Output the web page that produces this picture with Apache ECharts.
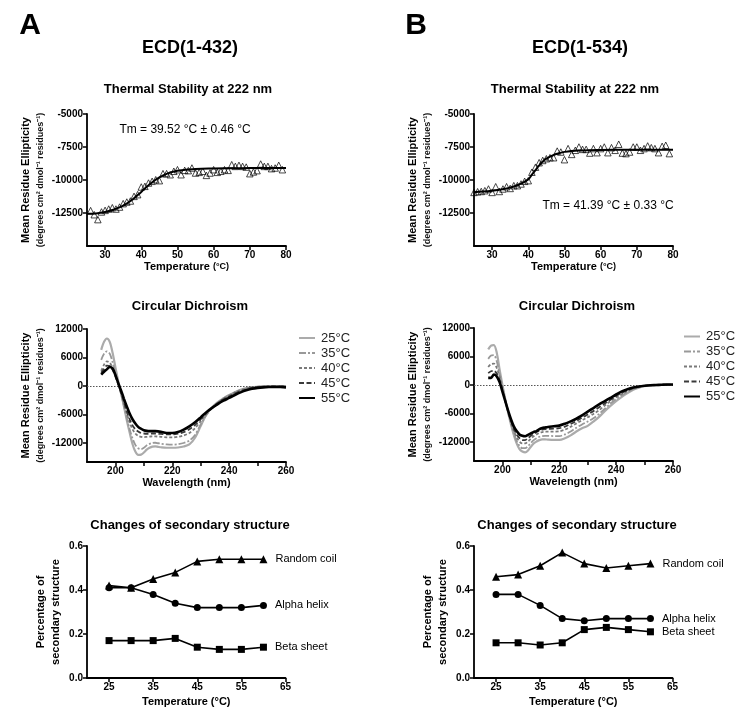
<!DOCTYPE html>
<html><head><meta charset="utf-8">
<script src="https://cdn.jsdelivr.net/npm/echarts@6/dist/echarts.min.js"></script>
<style>html,body{margin:0;padding:0;background:#fff}#c{width:742px;height:718px}</style>
</head><body><div id="c"></div>
<script>
// ---------- Thermal stability (222 nm) ----------
const thermTempsA = [26,27,28,29,30,31,32,33,34,35,36,37,38,39,40,41,42,43,44,45,46,47,48,49,50,51,52,53,54,55,56,57,58,59,60,61,62,63,64,65,66,67,68,69,70,71,72,73,74,75,76,77,78,79];
const thermValsA = [-12320,-12630,-13000,-12420,-12300,-12200,-12100,-12200,-12050,-11790,-11670,-11590,-11240,-11110,-10530,-10480,-10230,-10100,-9980,-10050,-9520,-9520,-9600,-9340,-9220,-9600,-9270,-9290,-9090,-9470,-9420,-9340,-9650,-9470,-9220,-9420,-9340,-9220,-9270,-8840,-8970,-8890,-8970,-9020,-9520,-9390,-9290,-8790,-8970,-8970,-9140,-9090,-8890,-9220];
const fitTempsA = [25,27.5,30,32.5,35,37.5,40,42.5,45,47.5,50,55,60,65,70,75,80];
const fitValsA = [-12560,-12530,-12420,-12230,-11950,-11500,-10900,-10280,-9800,-9480,-9300,-9160,-9120,-9110,-9100,-9100,-9100];

const thermTempsB = [25,26,27,28,29,30,31,32,33,34,35,36,37,38,39,40,41,42,43,44,45,46,47,48,49,50,51,52,53,54,55,56,57,58,59,60,61,62,63,64,65,66,67,68,69,70,71,72,73,74,75,76,77,78,79];
const thermValsB = [-10940,-10890,-10870,-10810,-10680,-10940,-10510,-10870,-10680,-10510,-10640,-10430,-10430,-10300,-10100,-10050,-9410,-9030,-8690,-8520,-8390,-8310,-8310,-7810,-7880,-8460,-7620,-8060,-7750,-7500,-7680,-7680,-7960,-7620,-7930,-7620,-7500,-7930,-7550,-7750,-7290,-7960,-8000,-7880,-7500,-7500,-7750,-7620,-7420,-7550,-7620,-7930,-7450,-7370,-8000];
const fitTempsB = [25,27.5,30,32.5,35,37.5,40,41,42,43,44,45,47.5,50,55,60,65,70,75,80];
const fitValsB = [-10930,-10880,-10810,-10720,-10580,-10340,-9950,-9600,-9250,-8900,-8600,-8380,-8050,-7870,-7760,-7720,-7710,-7700,-7700,-7700];

const thermXTicks = [30,40,50,60,70,80];
const thermYTicks = [-12500,-10000,-7500,-5000];

// ---------- Circular dichroism spectra ----------
const wavelengths = [195,196,197,198,199,200,201,202,203,204,205,206,207,208,209,210,211,212,213,214,215,216,218,220,222,224,226,228,230,232,234,236,238,240,242,244,246,248,250,252,254,256,258,260];
const cdTemps = ['25°C','35°C','40°C','45°C','55°C'];
const cdA_25 = [7600,9300,10000,9300,7000,3900,1000,-1600,-4300,-7200,-9800,-12200,-13800,-14500,-14450,-14000,-13400,-13000,-12750,-12700,-12800,-12900,-13000,-13000,-12950,-12750,-12300,-10900,-8400,-6000,-4500,-3400,-2600,-1900,-1300,-800,-450,-250,-150,-80,-50,-30,-30,-40];
const cdA_35 = [5500,6800,7300,6800,5000,2800,500,-1700,-4200,-6800,-9100,-11000,-12400,-13100,-13300,-13000,-12500,-12200,-12000,-11950,-12050,-12150,-12300,-12350,-12250,-12000,-11500,-10300,-8100,-6100,-4600,-3500,-2600,-1950,-1350,-850,-480,-270,-160,-90,-60,-40,-40,-50];
const cdA_40 = [3200,4500,5200,4900,3800,2200,400,-1500,-3700,-5800,-7700,-9100,-10000,-10500,-10700,-10750,-10700,-10650,-10600,-10600,-10650,-10700,-10800,-10800,-10700,-10400,-9900,-8900,-7400,-5800,-4600,-3500,-2700,-2000,-1400,-900,-550,-320,-180,-100,-60,-50,-50,-60];
const cdA_45 = [2800,3600,4300,4200,3400,2000,300,-1400,-3400,-5300,-7000,-8300,-9100,-9600,-9900,-10000,-10050,-10050,-10000,-10000,-10050,-10100,-10200,-10200,-10050,-9700,-9100,-8200,-7000,-5700,-4600,-3600,-2800,-2200,-1600,-1100,-700,-420,-250,-150,-100,-80,-80,-100];
const cdA_55 = [2400,3000,3500,4000,3700,2300,600,-1000,-2700,-4300,-5800,-7000,-7900,-8600,-9000,-9300,-9450,-9500,-9500,-9500,-9550,-9650,-9900,-9900,-9700,-9200,-8500,-7650,-6600,-5500,-4600,-3800,-3100,-2500,-1900,-1350,-900,-600,-400,-280,-220,-200,-220,-280];

const cdB_25 = [7500,8300,8400,6800,3300,0,-3000,-5800,-8300,-10500,-12300,-13500,-14000,-14200,-13800,-13000,-12300,-11900,-11600,-11450,-11450,-11500,-11550,-11550,-11200,-10600,-9800,-9100,-8600,-7700,-6700,-5500,-4400,-3400,-2500,-1700,-1000,-550,-250,-100,-50,0,0,0];
const cdB_35 = [5500,6200,6300,5000,2400,-300,-3200,-5800,-8100,-10200,-11800,-12800,-13300,-13300,-12900,-12200,-11600,-11200,-10900,-10750,-10700,-10700,-10750,-10750,-10400,-9800,-9000,-8300,-7700,-7000,-6100,-5000,-3900,-3000,-2200,-1500,-900,-500,-230,-100,-50,0,0,0];
const cdB_40 = [3800,4400,4500,3600,1700,-700,-3300,-5700,-7900,-9700,-11000,-11900,-12300,-12300,-11900,-11300,-10800,-10400,-10100,-9900,-9850,-9800,-9800,-9750,-9400,-8800,-8100,-7400,-6800,-6100,-5300,-4300,-3400,-2600,-1900,-1250,-750,-420,-200,-80,-30,0,30,30];
const cdB_45 = [2500,2900,3000,2400,1100,-1000,-3300,-5500,-7500,-9200,-10400,-11200,-11600,-11600,-11200,-10700,-10300,-9900,-9600,-9400,-9300,-9250,-9200,-9100,-8750,-8200,-7600,-6900,-6200,-5500,-4700,-3900,-3100,-2300,-1650,-1100,-650,-360,-170,-60,-20,20,60,60];
const cdB_55 = [1500,1500,2200,1800,600,-1400,-3400,-5400,-7200,-8700,-9700,-10400,-10700,-10800,-10500,-10200,-9900,-9700,-9300,-9050,-8950,-8850,-8700,-8550,-8150,-7650,-7100,-6400,-5600,-4850,-4100,-3400,-2700,-2000,-1350,-900,-550,-300,-150,-50,0,50,100,100];

const cdXTicks = [200,210,220,230,240,250,260];
const cdXLabels = [200,220,240,260];
const cdYTicks = [-12000,-6000,0,6000,12000];

// ---------- Secondary structure ----------
const ssTemps = [25,30,35,40,45,50,55,60];
const ssNames = ['Random coil','Alpha helix','Beta sheet'];
const ssCoilA  = [0.42,0.41,0.45,0.48,0.53,0.54,0.54,0.54];
const ssHelixA = [0.41,0.41,0.38,0.34,0.32,0.32,0.32,0.33];
const ssSheetA = [0.17,0.17,0.17,0.18,0.14,0.13,0.13,0.14];
const ssCoilB  = [0.46,0.47,0.51,0.57,0.52,0.50,0.51,0.52];
const ssHelixB = [0.38,0.38,0.33,0.27,0.26,0.27,0.27,0.27];
const ssSheetB = [0.16,0.16,0.15,0.16,0.22,0.23,0.22,0.21];
const ssXTicks = [25,35,45,55,65];

// ---------- helpers ----------
const F = "'Liberation Sans', Arial, Helvetica, sans-serif";
function merge(a,b){const r=Object.assign({},a);for(const k in b){const v=b[k];if(v&&typeof v==='object'&&!Array.isArray(v)&&r[k]&&typeof r[k]==='object'&&!Array.isArray(r[k]))r[k]=merge(r[k],v);else r[k]=v;}return r;}
const zip = (xs,ys)=>xs.map((x,i)=>[x,ys[i]]);
const baseAxis = {
  type:'value',
  axisLine:{show:true,onZero:false,lineStyle:{color:'#000',width:1.8}},
  axisTick:{show:true,length:4,lineStyle:{color:'#000',width:1.5}},
  axisLabel:{color:'#000',fontSize:10,fontWeight:'bold',fontFamily:F,margin:4},
  splitLine:{show:false},
  nameLocation:'middle',
  nameTextStyle:{color:'#000',fontFamily:F,fontWeight:'bold',fontSize:11}
};
const richY = {a:{fontSize:11,fontWeight:'bold',fontFamily:F,color:'#000',lineHeight:19},
               b:{fontSize:9,fontWeight:'bold',fontFamily:F,color:'#111',lineHeight:12}};
const ellipName = '{a|Mean Residue Ellipticity}\n{b|(degrees cm² dmol⁻¹ residues⁻¹)}';

function thermX(g){return merge(baseAxis,{gridIndex:g,min:25,max:80,
  axisTick:{customValues:thermXTicks},axisLabel:{customValues:thermXTicks},
  name:'{a|Temperature }{b|(°C)}',nameGap:15,
  nameTextStyle:{rich:{a:{fontSize:11,fontWeight:'bold',fontFamily:F,color:'#000'},b:{fontSize:9,fontWeight:'bold',fontFamily:F,color:'#000'}}}});}
function thermY(g){return merge(baseAxis,{gridIndex:g,min:-15000,max:-5000,
  axisTick:{customValues:thermYTicks},axisLabel:{customValues:thermYTicks,formatter:v=>String(v)},
  name:ellipName,nameRotate:90,nameGap:40,nameTextStyle:{rich:richY}});}
function cdX(g){return merge(baseAxis,{gridIndex:g,min:190,max:260,
  axisTick:{customValues:cdXTicks},axisLabel:{customValues:cdXLabels},
  name:'Wavelength (nm)',nameGap:15});}
function cdY(g){return merge(baseAxis,{gridIndex:g,min:-16000,max:12000,
  axisTick:{customValues:cdYTicks},axisLabel:{customValues:cdYTicks,formatter:v=>String(v)},
  name:ellipName,nameRotate:90,nameGap:40,nameTextStyle:{rich:richY}});}
function ssX(g){return merge(baseAxis,{gridIndex:g,min:20,max:65,
  axisTick:{customValues:ssXTicks},axisLabel:{customValues:ssXTicks},
  name:'Temperature (°C)',nameGap:18});}
function ssY(g){return merge(baseAxis,{gridIndex:g,min:0,max:0.6,interval:0.2,
  axisLabel:{formatter:v=>v.toFixed(1)},
  name:'Percentage of\nsecondary structure',nameRotate:90,nameGap:24,
  nameTextStyle:{lineHeight:15}});}

const cdStyles = [
  {color:'#ababab',width:2.2,type:'solid'},
  {color:'#999999',width:1.8,type:[7,2,2,2]},
  {color:'#7a7a7a',width:1.8,type:[3,2]},
  {color:'#3a3a3a',width:1.8,type:[5,2.5]},
  {color:'#000000',width:2.6,type:'solid'}
];
function cdSeries(g,arrs){
  return arrs.map((a,i)=>{
    const s={type:'line',name:cdTemps[i],xAxisIndex:g,yAxisIndex:g,data:zip(wavelengths,a),
      smooth:0.3,symbol:'none',showSymbol:false,lineStyle:cdStyles[i],itemStyle:{color:cdStyles[i].color},
      z:3+i,silent:true};
    if(i===0){s.markLine={silent:true,symbol:'none',label:{show:false},
      lineStyle:{color:'#555',type:[1.5,1.5],width:1},data:[{yAxis:0}]};}
    return s;
  });
}
const ssSymbols=['triangle','circle','rect'];
const ssSizes=[8,7,7];
function ssSeries(g,arrs){
  return arrs.map((a,i)=>({type:'line',name:ssNames[i],xAxisIndex:g,yAxisIndex:g,data:zip(ssTemps,a),
    symbol:ssSymbols[i],symbolSize:ssSizes[i],showSymbol:true,
    itemStyle:{color:'#000'},lineStyle:{color:'#000',width:1.6},silent:true,
    label:{show:true,position:'right',distance:8,color:'#000',fontFamily:F,fontSize:11,
      formatter:p=>p.dataIndex===ssTemps.length-1?p.seriesName:''}}));
}
function thermSeries(g,ft,fv,pt,pv){
  return [
    {type:'line',xAxisIndex:g,yAxisIndex:g,data:zip(ft,fv),smooth:0.4,symbol:'none',showSymbol:false,
      lineStyle:{color:'#000',width:2},silent:true,z:2},
    {type:'scatter',xAxisIndex:g,yAxisIndex:g,data:zip(pt,pv),symbol:'triangle',symbolSize:6.5,
      itemStyle:{color:'rgba(255,255,255,0)',borderColor:'#000',borderWidth:0.9},silent:true,z:3}
  ];
}
function txt(x,y,text,font,align){return {type:'text',x:x,y:y,silent:true,
  style:{text:text,font:font,fill:'#000',align:align||'center',verticalAlign:'middle',textAlign:align||'center',textVerticalAlign:'middle'}};}

const legendBase = {data:cdTemps,orient:'vertical',padding:0,itemWidth:16,itemHeight:13,itemGap:2,
  itemStyle:{opacity:0},
  textStyle:{fontSize:13,color:'#222',fontFamily:F,lineHeight:13,padding:[0,0,0,1]},selectedMode:false};

const option = {
  animation:false,
  backgroundColor:'#fff',
  grid:[
    {left:87,top:114,width:199,height:132},
    {left:474,top:114,width:199,height:132},
    {left:87,top:329,width:199,height:133},
    {left:474,top:328,width:199,height:133},
    {left:87,top:546,width:198.5,height:132},
    {left:474,top:546,width:198.5,height:132}
  ],
  xAxis:[thermX(0),thermX(1),cdX(2),cdX(3),ssX(4),ssX(5)],
  yAxis:[thermY(0),thermY(1),cdY(2),cdY(3),ssY(4),ssY(5)],
  legend:[merge(legendBase,{left:298,top:331.5}),merge(legendBase,{left:683,top:330})],
  series:[].concat(
    thermSeries(0,fitTempsA,fitValsA,thermTempsA,thermValsA),
    thermSeries(1,fitTempsB,fitValsB,thermTempsB,thermValsB),
    cdSeries(2,[cdA_25,cdA_35,cdA_40,cdA_45,cdA_55]),
    cdSeries(3,[cdB_25,cdB_35,cdB_40,cdB_45,cdB_55]),
    ssSeries(4,[ssCoilA,ssHelixA,ssSheetA]),
    ssSeries(5,[ssCoilB,ssHelixB,ssSheetB])
  ),
  graphic:[
    txt(30,26,'A','bold 30px '+F),
    txt(416,26,'B','bold 30px '+F),
    txt(190,48,'ECD(1-432)','bold 18px '+F),
    txt(580,48,'ECD(1-534)','bold 18px '+F),
    txt(188,89,'Thermal Stability at 222 nm','bold 13px '+F),
    txt(575,89,'Thermal Stability at 222 nm','bold 13px '+F),
    txt(185,130,'Tm = 39.52 °C ± 0.46 °C','12px '+F),
    txt(608,206,'Tm = 41.39 °C ± 0.33 °C','12px '+F),
    txt(190,306.5,'Circular Dichroism','bold 13px '+F),
    txt(577,306,'Circular Dichroism','bold 13px '+F),
    txt(190,525,'Changes of secondary structure','bold 13px '+F),
    txt(577,525,'Changes of secondary structure','bold 13px '+F)
  ]
};
const chart = echarts.init(document.getElementById('c'),null,{renderer:'canvas'});
chart.setOption(option);
</script></body></html>
